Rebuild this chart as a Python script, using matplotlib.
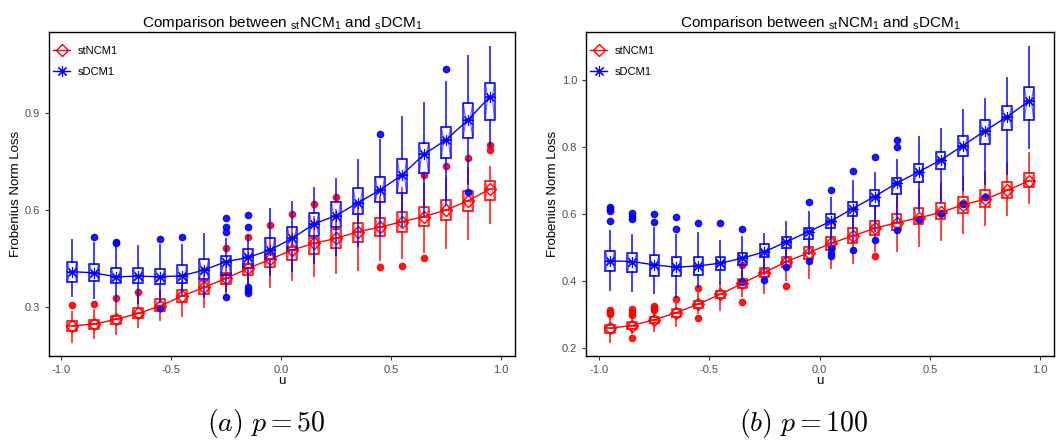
import numpy as np
import matplotlib
matplotlib.use('Agg')
import matplotlib.pyplot as plt
from matplotlib.lines import Line2D

plt.rcParams['font.family'] = ['Liberation Sans', 'DejaVu Sans']
plt.rcParams['mathtext.fontset'] = 'custom'
plt.rcParams['mathtext.rm'] = 'Liberation Sans'
plt.rcParams['mathtext.it'] = 'Liberation Sans:italic'

u = [-0.95, -0.85, -0.75, -0.65, -0.55, -0.45, -0.35, -0.25, -0.15, -0.05,
     0.05, 0.15, 0.25, 0.35, 0.45, 0.55, 0.65, 0.75, 0.85, 0.95]

# ---- p = 50 ----
a_nc_med = [0.241, 0.246, 0.261, 0.279, 0.302, 0.333, 0.360, 0.388, 0.419, 0.447,
            0.476, 0.497, 0.512, 0.533, 0.547, 0.564, 0.580, 0.600, 0.629, 0.665]
a_nc_q1 = [0.225, 0.231, 0.245, 0.264, 0.287, 0.314, 0.339, 0.370, 0.398, 0.422,
           0.445, 0.464, 0.481, 0.500, 0.520, 0.533, 0.551, 0.569, 0.598, 0.631]
a_nc_q3 = [0.256, 0.259, 0.272, 0.295, 0.323, 0.352, 0.381, 0.404, 0.433, 0.464,
           0.486, 0.512, 0.540, 0.561, 0.576, 0.593, 0.609, 0.631, 0.660, 0.691]
a_nc_lo = [0.191, 0.202, 0.214, 0.238, 0.259, 0.271, 0.298, 0.336, 0.360, 0.362,
           0.383, 0.395, 0.406, 0.414, 0.445, 0.450, 0.471, 0.483, 0.509, 0.559]
a_nc_hi = [0.284, 0.290, 0.310, 0.330, 0.350, 0.383, 0.419, 0.440, 0.480, 0.510,
           0.540, 0.580, 0.600, 0.620, 0.640, 0.670, 0.680, 0.700, 0.730, 0.735]
a_nc_out = [[0.305], [0.309], [0.327], [0.347], [], [], [], [0.481], [0.517], [0.554],
            [0.587], [0.618], [0.640], [], [0.424], [0.427], [0.709, 0.452], [0.737],
            [0.761], [0.802, 0.787]]

a_dc_med = [0.409, 0.405, 0.393, 0.395, 0.393, 0.396, 0.414, 0.440, 0.453, 0.476,
            0.512, 0.557, 0.583, 0.623, 0.662, 0.709, 0.773, 0.818, 0.880, 0.952]
a_dc_q1 = [0.378, 0.380, 0.375, 0.373, 0.370, 0.373, 0.386, 0.398, 0.419, 0.447,
           0.476, 0.520, 0.548, 0.588, 0.626, 0.652, 0.714, 0.761, 0.825, 0.880]
a_dc_q3 = [0.438, 0.432, 0.421, 0.419, 0.418, 0.429, 0.447, 0.457, 0.479, 0.514,
           0.548, 0.592, 0.626, 0.668, 0.704, 0.760, 0.807, 0.859, 0.932, 0.996]
a_dc_lo = [0.333, 0.328, 0.316, 0.311, 0.315, 0.336, 0.330, 0.350, 0.370, 0.400,
           0.410, 0.436, 0.460, 0.490, 0.520, 0.550, 0.580, 0.620, 0.680, 0.800]
a_dc_hi = [0.507, 0.499, 0.485, 0.489, 0.492, 0.492, 0.526, 0.510, 0.520, 0.602,
           0.626, 0.670, 0.696, 0.756, 0.818, 0.890, 0.934, 0.999, 1.079, 1.107]
a_dc_out = [[], [0.517], [0.500, 0.497], [], [0.510, 0.297], [0.516], [],
            [0.574, 0.548, 0.531, 0.329], [0.585, 0.547, 0.360, 0.352, 0.343], [],
            [], [], [], [], [0.836], [], [], [1.037], [0.657], []]

# ---- p = 100 ----
b_nc_med = [0.259, 0.267, 0.284, 0.305, 0.331, 0.360, 0.393, 0.425, 0.458, 0.484,
            0.512, 0.534, 0.557, 0.574, 0.588, 0.605, 0.627, 0.644, 0.670, 0.699]
b_nc_q1 = [0.246, 0.257, 0.274, 0.293, 0.320, 0.348, 0.380, 0.413, 0.441, 0.466,
           0.493, 0.514, 0.537, 0.553, 0.570, 0.585, 0.602, 0.622, 0.649, 0.680]
b_nc_q3 = [0.269, 0.276, 0.293, 0.316, 0.341, 0.371, 0.405, 0.438, 0.471, 0.502,
           0.532, 0.557, 0.580, 0.600, 0.617, 0.634, 0.652, 0.672, 0.696, 0.723]
b_nc_lo = [0.219, 0.244, 0.252, 0.267, 0.304, 0.313, 0.355, 0.363, 0.403, 0.410,
           0.438, 0.455, 0.490, 0.490, 0.504, 0.521, 0.544, 0.567, 0.597, 0.634]
b_nc_hi = [0.293, 0.295, 0.305, 0.330, 0.363, 0.393, 0.430, 0.470, 0.498, 0.532,
           0.567, 0.597, 0.620, 0.650, 0.670, 0.690, 0.710, 0.726, 0.753, 0.781]
b_nc_out = [[0.313, 0.307, 0.301], [0.316, 0.308, 0.299, 0.229], [0.325, 0.320, 0.313],
            [0.346], [0.378, 0.290], [], [0.448, 0.338], [], [0.386], [],
            [], [], [0.473], [], [], [], [], [], [], []]

b_dc_med = [0.460, 0.458, 0.448, 0.441, 0.445, 0.453, 0.468, 0.487, 0.517, 0.547,
            0.578, 0.616, 0.652, 0.692, 0.726, 0.761, 0.804, 0.848, 0.890, 0.937]
b_dc_q1 = [0.431, 0.426, 0.416, 0.415, 0.418, 0.433, 0.448, 0.471, 0.498, 0.524,
           0.558, 0.594, 0.625, 0.660, 0.694, 0.733, 0.773, 0.808, 0.851, 0.881]
b_dc_q3 = [0.490, 0.483, 0.476, 0.471, 0.471, 0.470, 0.484, 0.510, 0.532, 0.557,
           0.600, 0.636, 0.672, 0.707, 0.750, 0.786, 0.834, 0.881, 0.922, 0.978]
b_dc_lo = [0.373, 0.371, 0.365, 0.353, 0.381, 0.393, 0.410, 0.420, 0.455, 0.480,
           0.510, 0.520, 0.550, 0.580, 0.610, 0.640, 0.670, 0.690, 0.720, 0.796]
b_dc_hi = [0.550, 0.537, 0.557, 0.537, 0.542, 0.520, 0.532, 0.539, 0.575, 0.605,
           0.647, 0.699, 0.723, 0.761, 0.831, 0.853, 0.910, 0.943, 1.007, 1.098]
b_dc_out = [[0.622, 0.615, 0.609, 0.579], [0.604, 0.594, 0.585], [0.600, 0.575],
            [0.592, 0.555], [0.572], [0.572], [0.555, 0.398], [0.403], [0.441],
            [0.635, 0.460], [0.672, 0.498, 0.483, 0.475], [0.728, 0.493],
            [0.769, 0.522], [0.821, 0.801, 0.552], [0.585], [0.602], [0.630],
            [0.652], [], []]

RED = '#FF0000'
BLUE = '#0000FF'
ALPHA = 0.75
BW = 0.042
STAR = (8, 2, 0)


def make_stats(q1, med, q3, lo, hi, out):
    stats = []
    for i in range(len(med)):
        stats.append(dict(med=med[i], q1=q1[i], q3=q3[i], whislo=lo[i], whishi=hi[i],
                          fliers=out[i], cilo=q1[i], cihi=q3[i]))
    return stats


def draw_series(ax, q1, med, q3, lo, hi, out, color, marker, ms, mew):
    st = make_stats(q1, med, q3, lo, hi, out)
    lp = dict(color=color, linewidth=1.4, alpha=ALPHA)
    ax.bxp(st, positions=u, widths=BW, showcaps=False, manage_ticks=False,
           boxprops=lp, whiskerprops=lp, medianprops=dict(color=color, linewidth=1.4, alpha=ALPHA),
           flierprops=dict(marker='o', markerfacecolor=color, markeredgecolor=color,
                           markersize=4.5, alpha=0.9))
    # notch outline inside the box
    ax.bxp(st, positions=u, widths=BW, shownotches=True, showcaps=False, showfliers=False,
           manage_ticks=False, boxprops=dict(color=color, linewidth=0.8, alpha=0.6),
           whiskerprops=dict(linewidth=0), medianprops=dict(linewidth=0))
    ax.plot(u, med, color=color, linewidth=1.0, marker=marker, markersize=ms,
            markerfacecolor='none', markeredgecolor=color, markeredgewidth=mew)


def setup(ax, ylim, yticks, xlim):
    ax.set_xlim(*xlim)
    ax.set_ylim(*ylim)
    ax.set_yticks(yticks)
    ax.set_yticklabels([f'{t:.1f}' for t in yticks])
    ax.set_xticks([-1.0, -0.5, 0.0, 0.5, 1.0])
    ax.set_xticklabels(['-1.0', '-0.5', '0.0', '0.5', '1.0'])
    ax.tick_params(colors='#4D4D4D', labelsize=8, length=3, width=0.8)
    ax.tick_params(axis='both', which='both', color='#333333')
    for s in ax.spines.values():
        s.set_linewidth(1.0)
        s.set_color('black')
    ax.set_xlabel('u', fontsize=9.5, labelpad=0)
    ax.set_ylabel('Frobenius Norm Loss', fontsize=9.5, labelpad=2)
    ax.set_title(r'Comparison between $_{\mathrm{st}}$NCM$_1$ and $_{\mathrm{s}}$DCM$_1$',
                 fontsize=11, pad=3)
    h_red = Line2D([], [], color=RED, marker='D', markerfacecolor='none', markersize=6,
                   linewidth=1.0)
    h_blue = Line2D([], [], color=BLUE, marker=STAR, markersize=8, markeredgewidth=0.8,
                    linewidth=1.0)
    ax.legend([h_red, h_blue], ['stNCM1', 'sDCM1'], loc='upper left', frameon=False,
              fontsize=8, handlelength=1.5, handletextpad=0.7, labelspacing=1.0,
              borderaxespad=0, bbox_to_anchor=(0.0, 0.972))


fig = plt.figure(figsize=(10.57, 4.45), dpi=100)
ax1 = fig.add_axes([49 / 1057, 1 - 356 / 445, 466 / 1057, 324 / 445])
ax2 = fig.add_axes([586 / 1057, 1 - 356 / 445, 468 / 1057, 324 / 445])

draw_series(ax1, a_nc_q1, a_nc_med, a_nc_q3, a_nc_lo, a_nc_hi, a_nc_out, RED, 'D', 6, 1.0)
draw_series(ax1, a_dc_q1, a_dc_med, a_dc_q3, a_dc_lo, a_dc_hi, a_dc_out, BLUE, STAR, 8, 0.8)
setup(ax1, (0.147, 1.153), [0.3, 0.6, 0.9], (-1.055, 1.064))

draw_series(ax2, b_nc_q1, b_nc_med, b_nc_q3, b_nc_lo, b_nc_hi, b_nc_out, RED, 'D', 6, 1.0)
draw_series(ax2, b_dc_q1, b_dc_med, b_dc_q3, b_dc_lo, b_dc_hi, b_dc_out, BLUE, STAR, 8, 0.8)
setup(ax2, (0.176, 1.143), [0.2, 0.4, 0.6, 0.8, 1.0], (-1.059, 1.063))

fig.text(266 / 1057, 1 - 423 / 445, r'$(a)\ p = 50$', ha='center', va='center',
         fontsize=20, math_fontfamily='cm')
fig.text(804 / 1057, 1 - 423 / 445, r'$(b)\ p = 100$', ha='center', va='center',
         fontsize=20, math_fontfamily='cm')

fig.savefig('out.png', dpi=100)
